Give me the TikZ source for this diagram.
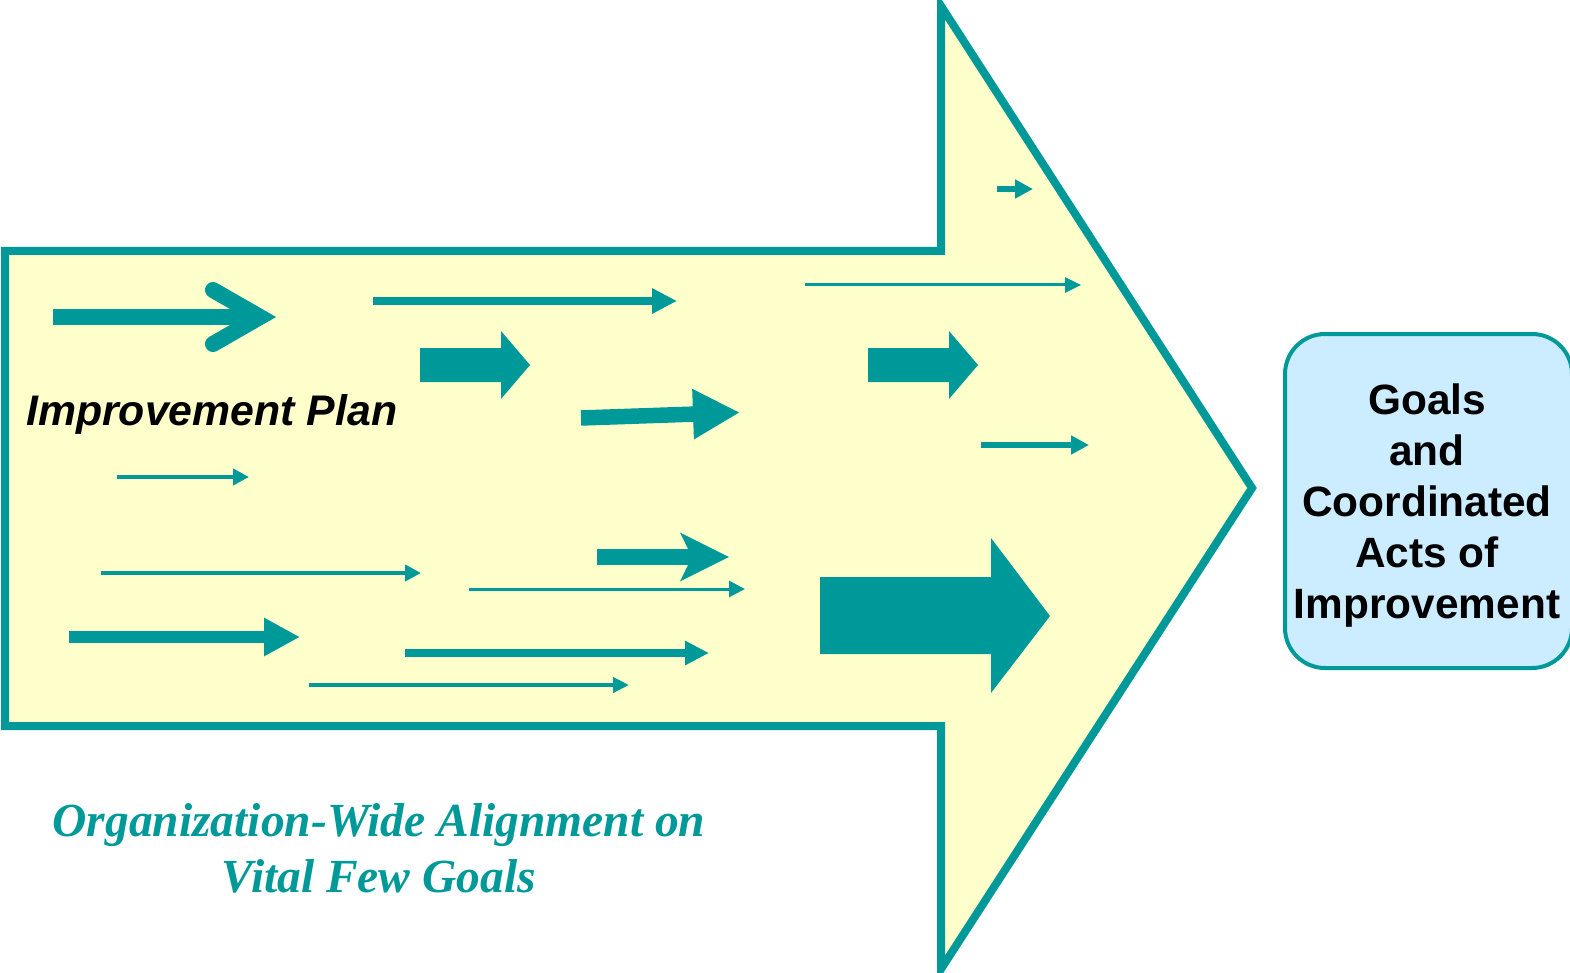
\documentclass[tikz,border=0pt]{standalone}
\usepackage{fontspec}
\setmainfont{Liberation Sans}
\newfontfamily\timesfont{Liberation Serif}
\usetikzlibrary{arrows.meta}
\definecolor{tealc}{RGB}{0,153,153}
\definecolor{paleyellow}{RGB}{255,255,204}
\definecolor{paleblue}{RGB}{204,236,255}
\begin{document}
\begin{tikzpicture}[x=1pt,y=-1pt,
  outline/.style={draw=tealc, fill=paleyellow, line width=8pt, line join=miter},
  flow/.style={draw=tealc, line width=#1},
  blk/.style={fill=tealc, draw=none},
  tri/.style 2 args={-{Triangle[length=#1,width=#2]}},
]
\useasboundingbox (0,0) rectangle (1570,973);
% big arrow outline
\draw[outline] (5,251) -- (941,251) -- (941,6) -- (1252,488) -- (941,969) -- (941,726) -- (5,726) -- cycle;

% coordinates of connectors
\coordinate (chS) at (53,317);
\coordinate (chT) at (260,317);
\coordinate (chA) at (213,290);
\coordinate (chB) at (213,344);
\coordinate (a2s) at (373,301);   \coordinate (a2e) at (677,301);
\coordinate (a4s) at (581,418);   \coordinate (a4e) at (740,412.5);
\coordinate (a5s) at (117,477);   \coordinate (a5e) at (249,477);
\coordinate (a6s) at (101,573);   \coordinate (a6e) at (421,573);
\coordinate (a7s) at (597,557);   \coordinate (a7e) at (729,557);
\coordinate (a8s) at (469,589);   \coordinate (a8e) at (745,589);
\coordinate (a9s) at (69,637);    \coordinate (a9e) at (300,637);
\coordinate (a10s) at (405,653);  \coordinate (a10e) at (709,653);
\coordinate (a11s) at (309,685);  \coordinate (a11e) at (629,685);
\coordinate (a12s) at (997,189);  \coordinate (a12e) at (1033,189);
\coordinate (a13s) at (805,285);  \coordinate (a13e) at (1081,285);
\coordinate (a15s) at (981,445);  \coordinate (a15e) at (1089,445);

% chevron arrow
\draw[flow=16pt] (chS) -- (chT);
\draw[flow=16pt, line cap=round, line join=miter] (chA) -- (chT) -- (chB);

% line arrows
\draw[flow=8pt, tri={25pt}{24pt}] (a2s) -- (a2e);
\draw[flow=15.5pt, tri={47pt}{47pt}] (a4s) -- (a4e);
\draw[flow=4pt, tri={16pt}{16pt}] (a5s) -- (a5e);
\draw[flow=4pt, tri={16pt}{16pt}] (a6s) -- (a6e);
\draw[flow=15.5pt, -{Stealth[length=48pt,width=47pt,inset=11pt]}] (a7s) -- (a7e);
\draw[flow=3pt, tri={16pt}{16pt}] (a8s) -- (a8e);
\draw[flow=12pt, tri={36pt}{36pt}] (a9s) -- (a9e);
\draw[flow=8pt, tri={24pt}{23pt}] (a10s) -- (a10e);
\draw[flow=4pt, tri={16pt}{15pt}] (a11s) -- (a11e);
\draw[flow=6pt, tri={18pt}{18pt}] (a12s) -- (a12e);
\draw[flow=3pt, tri={16pt}{15pt}] (a13s) -- (a13e);
\draw[flow=6.5pt, tri={18pt}{18pt}] (a15s) -- (a15e);

% block arrows
\fill[blk] (420,348) -- (501,348) -- (501,331) -- (530,365) -- (501,399) -- (501,382) -- (420,382) -- cycle;
\fill[blk] (868,348) -- (949,348) -- (949,331) -- (978,365) -- (949,399) -- (949,382) -- (868,382) -- cycle;
\fill[blk] (820,577) -- (991,577) -- (991,538) -- (1050,616) -- (991,693) -- (991,654) -- (820,654) -- cycle;

% texts
\node[anchor=base west, inner sep=0pt, font=\bfseries\itshape\fontsize{42.8}{50}\selectfont] (plan) at (26,425) {Improvement Plan};

\node[text=tealc, align=center, inner sep=0pt, font=\timesfont\bfseries\itshape\fontsize{47.5}{56}\selectfont] (align) at (379,848) {Organization-Wide Alignment on\\Vital Few Goals};

% goal box
\node[draw=tealc, fill=paleblue, line width=4pt, rounded corners=40pt, minimum width=287pt, minimum height=334pt, inner sep=0pt] (goal) at (1428.5,501) {};
\node[align=center, inner sep=0pt, font=\bfseries\fontsize{42.4}{51}\selectfont] (goaltext) at (1427,506) {Goals\\and\\Coordinated\\Acts of\\Improvement};
\end{tikzpicture}
\end{document}
